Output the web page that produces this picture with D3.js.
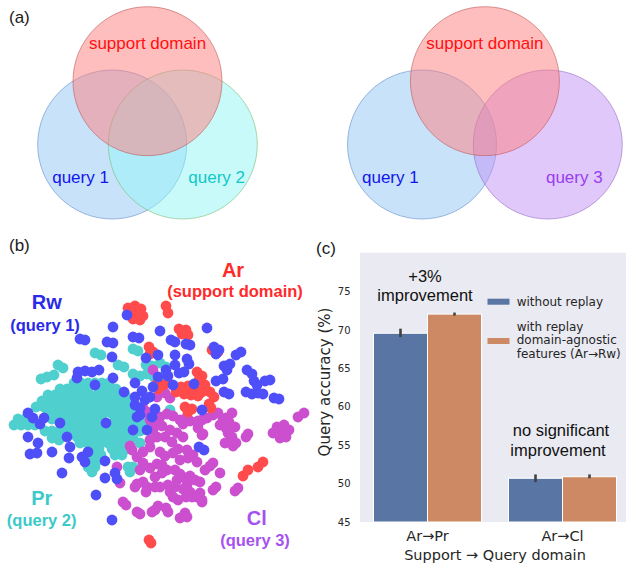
<!DOCTYPE html>
<html><head><meta charset="utf-8">
<script src="https://cdn.jsdelivr.net/npm/d3@7"></script>
<style>body{margin:0;background:#fff}svg{display:block}</style>
</head><body><svg id="fig" width="626" height="563"></svg>
<script>
// ================= DATA =================
// (a) Venn diagrams: set names and circle centres in units of circle radius
const vennLeftSets = ["support domain", "query 1", "query 2"];
const vennLeftCentres = [[0, -0.85], [-0.474, 0], [0.474, 0]];
const vennRightSets = ["support domain", "query 1", "query 3"];
const vennRightCentres = [[0, -0.85], [-0.844, 0], [0.844, 0]];

// (b) t-SNE embedding, [x, y]
const embArt = [[-32,112],[-25,114],[-19,111],[-29,106],[-22,106],[-17,104],[-27,101],[-20,100],
  [6,114],[8,107],[19,91],[26,90],[22,86],[28,85],[-11,73],[-7,68],[-10,66],[52,70],[58,68],
  [-3,36],[-2,31],[3,35],[8,37],[37,48],[42,44],[39,40],[21,33],[28,34],[35,32],[42,28],[24,26],[31,25],[38,24],[16,28],
  [45,35],[50,28],[54,23],
  [25,13],[32,11],[28,8],[49,16],[51,12],[83,-56],[88,-50],[98,-47],[103,-42],[-11,-120],[-9,-123]];
const embRealWorld = [[0,89],[11,80],[15,78],[26,76],[30,75],[47,92],[54,73],[59,70],[56,66],[76,65],[81,68],
  [15,65],[27,61],[29,56],[15,55],[19,47],[24,48],[64,54],[70,56],[67,50],[87,50],[92,46],[56,39],[63,41],
  [94,39],[97,35],[105,39],[110,40],[64,28],[69,26],[86,28],[92,26],[98,27],[103,26],[114,22],[119,21],
  [34,36],[13,35],[42,10],[-2,65],[6,50],[8,44],
  [-80,81],[-75,80],[-53,78],[-47,77],[-47,93],[-33,105],[-27,83],[-21,82],[-48,63],[-14,62],[-82,48],
  [-75,49],[-68,48],[-61,50],[-83,42],[-36,28],[-25,37],[-18,29],[-25,15],[-20,12],[-132,7],[-127,2],
  [-116,2],[-5,11],[-23,3],[-8,3],[-13,-10],[-27,-10],[-7,33],[-2,43],[-10,23],[-25,23],[-15,20],[-20,5],
  [-132,-17],[-122,-23],[-130,-34],[-123,-33],[-108,-32],[-93,-17],[-90,-27],[-91,-38],[-78,-37],[-75,-42],
  [-98,-53],[-72,-32],[-55,-41],[-55,-58],[-45,-53],[-43,-59],[-64,-75],[-48,-100],[-120,-4],[-100,-3],
  [39,-27],[44,-30],[-54,-3],[-65,35],[-47,42]];
const embProduct = [[-65,67],[-59,65],[-42,55],[-36,53],[-27,71],[-22,69],[-14,55],[-8,54],[-27,46],[-20,44],
  [-13,46],[-6,43],[-102,55],[-97,52],[-113,43],[-106,45],[-119,41],[0,57],[6,53],[0,39],[4,44],[10,10],
  [-86,37],[-79,37],[-72,37],[-65,37],[-58,37],[-51,37],
  [-100,31],[-93,31],[-86,31],[-79,31],[-72,31],[-58,31],[-51,31],[-44,31],
  [-112,25],[-105,25],[-98,25],[-91,25],[-84,25],[-77,25],[-70,25],[-63,25],[-56,25],[-49,25],[-42,25],[-35,25],
  [-118,19],[-111,19],[-104,19],[-97,19],[-90,19],[-83,19],[-76,19],[-69,19],[-62,19],[-55,19],[-48,19],[-41,19],[-34,19],[-27,19],
  [-124,13],[-116,13],[-109,13],[-102,13],[-95,13],[-88,13],[-81,13],[-74,13],[-67,13],[-60,13],[-53,13],[-46,13],[-39,13],[-32,13],
  [-112,7],[-105,7],[-98,7],[-91,7],[-84,7],[-77,7],[-70,7],[-63,7],[-56,7],[-49,7],[-42,7],[-35,7],[-28,7],[-14,7],
  [-142,1],[-135,1],[-108,1],[-101,1],[-94,1],[-87,1],[-80,1],[-73,1],[-66,1],[-59,1],[-45,1],[-38,1],[-31,1],[-20,1],[-13,1],
  [-146,-5],[-139,-5],[-132,-5],[-125,-5],[-94,-5],[-87,-5],[-80,-5],[-73,-5],[-66,-5],[-59,-5],[-52,-5],[-45,-5],[-38,-5],[-31,-5],[-24,-5],[-17,-5],
  [-115,-11],[-108,-11],[-101,-11],[-95,-11],[-88,-11],[-81,-11],[-74,-11],[-67,-11],[-60,-11],[-53,-11],[-46,-11],[-39,-11],[-32,-11],[-20,-11],
  [-108,-18],[-101,-20],[-83,-17],[-76,-17],[-69,-17],[-62,-17],[-55,-17],[-48,-17],[-41,-17],[-34,-17],[-27,-17],
  [-80,-23],[-73,-23],[-66,-23],[-59,-23],[-52,-23],[-45,-23],[-38,-23],[-31,-23],[-20,-23],
  [-68,-29],[-61,-29],[-48,-29],[-41,-29],[-34,-29],[-66,-35],[-59,-35],[-45,-35],[-38,-35],
  [-70,-41],[-63,-41],[-72,-47],[-65,-47],[-32,-47],[-27,-47],[-68,-52],[-30,-52]];
const embClipart = [[-7,50],[-17,12],[-10,0],[-3,23],[5,27],[10,22],[-13,8],[0,3],[7,6],[13,4],[-5,-4],[2,-6],
  [20,0],[27,3],[23,-4],[30,-1],[38,-4],[42,0],[47,2],[10,-10],[17,-13],[5,-17],[23,-17],[-3,-17],[-10,-20],
  [-7,-10],[38,-8],[42,-15],[-10,-27],[-17,-32],[-23,-37],[0,-32],[5,-36],[13,-33],[18,-29],[27,-30],[28,-38],
  [33,-35],[37,-42],[45,-50],[-17,-43],[-20,-50],[-10,-48],[-3,-44],[2,-45],[7,-50],[2,-53],[15,-50],[20,-54],
  [25,-58],[17,-60],[30,-56],[35,-60],[40,-62],[27,-65],[30,-72],[26,-77],[23,-69],[15,-67],[10,-72],[18,-80],
  [13,-77],[8,-65],[0,-67],[-5,-67],[-13,-67],[-17,-62],[-23,-64],[-25,-67],[-14,-72],[40,-73],[42,-80],
  [37,-77],[32,-77],[42,-82],[25,-93],[20,-98],[27,-97],[6,-88],[8,-92],[-2,-86],[-5,-90],[-8,-92],[-23,-92],
  [-20,-94],[-37,-82],[-34,-85],[-43,-47],[-40,-63],[-30,-26],[-28,-30],
  [38,-1],[43,-14],[63,0],[65,-23],[12,-22],[20,-40],[-5,-57],
  [53,5],[58,7],[66,2],[72,7],[69,-2],[60,-5],[66,-8],[68,-13],[75,-7],[72,-17],[73,-26],[76,-23],[86,-17],
  [88,-14],[53,-43],[50,-46],[60,-53],[53,-70],[56,-67],[75,-71],[78,-68],[117,-7],[124,-5],[129,-10],
  [120,-13],[113,-13],[126,-17],[120,-18],[138,3],[144,7]];

// (c) bar chart
const categories = ["Ar\u2192Pr", "Ar\u2192Cl"];
const seriesNames = ["without replay", "with replay|domain-agnostic|features (Ar\u2192Rw)"];
const withoutReplay = [69.6, 50.7];
const withReplay = [72.1, 50.9];
const withoutReplayCI = [[69.1, 70.2], [50.2, 51.2]];
const withReplayCI = [[71.9, 72.3], [50.7, 51.2]];
const yTicks = [45, 50, 55, 60, 65, 70, 75];

// ================= DRAW =================
const svg = d3.select("#fig");
svg.append("rect").attr("width", 626).attr("height", 563).attr("fill", "#fff");
const SANS = "'Liberation Sans', Arial, Helvetica, sans-serif";
const DJ = "'DejaVu Sans', sans-serif";

function panelLabel(t, x, y) {
  svg.append("text").attr("x", x).attr("y", y).attr("dy", "0.35em")
    .attr("font-family", SANS).attr("font-size", 17).attr("fill", "#1a1a1a").text(t);
}

// ---------- (a) ----------
const vennStyles = {
  "support domain": {fill: "rgba(255,125,125,0.5)", stroke: "rgba(190,90,90,0.6)", text: "#ff1010"},
  "query 1": {fill: "rgba(146,198,245,0.5)", stroke: "rgba(100,140,200,0.6)", text: "#1414ee"},
  "query 2": {fill: "rgba(146,245,245,0.5)", stroke: "rgba(120,190,120,0.6)", text: "#10c8c8"},
  "query 3": {fill: "rgba(194,146,245,0.5)", stroke: "rgba(150,110,200,0.6)", text: "#9a3cf2"}
};
const labelOffsets = {
  "support domain": [0, -0.51], "query 1": [-0.425, 0.432], "query 2": [0.455, 0.432], "query 3": [0.356, 0.432]
};
function drawVenn(sets, centres, cx, cy, r) {
  const vx = d3.scaleLinear().domain([-1, 1]).range([cx - r, cx + r]);
  const vy = d3.scaleLinear().domain([-1, 1]).range([cy - r, cy + r]);
  const g = svg.append("g");
  const items = sets.map((s, i) => ({s, c: centres[i]}));
  const order = [items[1], items[2], items[0]];
  g.selectAll("circle").data(order).join("circle")
    .attr("cx", d => vx(d.c[0])).attr("cy", d => vy(d.c[1]))
    .attr("r", vx(1) - vx(0))
    .attr("fill", d => vennStyles[d.s].fill)
    .attr("stroke", d => vennStyles[d.s].stroke).attr("stroke-width", 1);
  g.selectAll("text").data(items).join("text")
    .attr("x", d => vx(d.c[0] + labelOffsets[d.s][0]))
    .attr("y", d => vy(d.c[1] + labelOffsets[d.s][1]))
    .attr("dy", "0.35em").attr("text-anchor", "middle")
    .attr("font-family", SANS).attr("font-size", 17)
    .attr("fill", d => vennStyles[d.s].text).text(d => d.s);
}
drawVenn(vennLeftSets, vennLeftCentres, 147.5, 144.5, 74.5);
drawVenn(vennRightSets, vennRightCentres, 484.9, 144.5, 74.5);
panelLabel("(a)", 9, 17);

// ---------- (b) ----------
const ex = d3.scaleLinear().domain([-160, 150]).range([0, 310]);
const ey = d3.scaleLinear().domain([190, -143]).range([230, 563]);
const gb = svg.append("g");
const groups = [
  {data: embProduct, color: "#4fd0ce"},
  {data: embClipart, color: "#cc4fcf"},
  {data: embArt, color: "#ff4b4b"},
  {data: embRealWorld, color: "#4f4ffa"}
];
groups.forEach(gr => {
  gb.append("g").selectAll("circle").data(gr.data).join("circle")
    .attr("cx", d => ex(d[0])).attr("cy", d => ey(d[1])).attr("r", 5.4)
    .attr("fill", gr.color);
});
const bLabels = [
  {t: "Rw", x: 46.7, y: 301.7, s: 20, c: "#2a2ae8"},
  {t: "(query 1)", x: 45, y: 325, s: 16.5, c: "#2a2ae8"},
  {t: "Ar", x: 233, y: 270, s: 20, c: "#ff2a2a"},
  {t: "(support domain)", x: 235, y: 291.7, s: 16.5, c: "#ff2a2a"},
  {t: "Pr", x: 41.7, y: 498, s: 20, c: "#3cc9c9"},
  {t: "(query 2)", x: 41.7, y: 520, s: 16.5, c: "#3cc9c9"},
  {t: "Cl", x: 256.7, y: 518, s: 20, c: "#a652f0"},
  {t: "(query 3)", x: 255, y: 540, s: 16.5, c: "#a652f0"}
];
gb.selectAll("text.lab").data(bLabels).join("text").attr("class", "lab")
  .attr("x", d => d.x).attr("y", d => d.y).attr("dy", "0.35em").attr("text-anchor", "middle")
  .attr("font-family", SANS).attr("font-weight", "bold").attr("font-size", d => d.s)
  .attr("fill", d => d.c).text(d => d.t);
panelLabel("(b)", 9, 245);

// ---------- (c) ----------
const plot = {left: 360, right: 630, top: 252.7, bottom: 522};
const y = d3.scaleLinear().domain([45, 80.1]).range([plot.bottom, plot.top]);
const x0 = d3.scaleBand().domain(categories).range([plot.left, plot.right]).paddingInner(0).paddingOuter(0);
const inner = d3.scaleBand().domain([0, 1]).range([0, x0.bandwidth() * 0.8]);
const gc = svg.append("g");
gc.append("rect").attr("x", plot.left).attr("y", plot.top)
  .attr("width", plot.right - plot.left).attr("height", plot.bottom - plot.top).attr("fill", "#eaeaf2");
const barColors = ["#5975a4", "#cc8963"];
const series = [withoutReplay, withReplay];
const cis = [withoutReplayCI, withReplayCI];
const bars = [];
series.forEach((vals, si) => vals.forEach((v, ci) => bars.push({
  cat: categories[ci], si, v, lo: cis[si][ci][0], hi: cis[si][ci][1]
})));
const bx = d => x0(d.cat) + x0.bandwidth() * 0.1 + inner(d.si);
gc.selectAll("rect.bar").data(bars).join("rect").attr("class", "bar")
  .attr("x", bx).attr("width", inner.bandwidth())
  .attr("y", d => y(d.v)).attr("height", d => y(45) - y(d.v))
  .attr("fill", d => barColors[d.si]).attr("stroke", "#fff").attr("stroke-width", 1);
gc.selectAll("line.err").data(bars).join("line").attr("class", "err")
  .attr("x1", d => bx(d) + inner.bandwidth() / 2).attr("x2", d => bx(d) + inner.bandwidth() / 2)
  .attr("y1", d => y(d.lo)).attr("y2", d => y(d.hi))
  .attr("stroke", "#424242").attr("stroke-width", 2.6);
// y ticks
gc.selectAll("text.yt").data(yTicks).join("text").attr("class", "yt")
  .attr("x", 350.5).attr("y", d => y(d)).attr("dy", "0.35em").attr("text-anchor", "end")
  .attr("font-family", DJ).attr("font-size", 10).attr("fill", "#262626").text(d => d);
// x ticks
gc.selectAll("text.xt").data(categories).join("text").attr("class", "xt")
  .attr("x", d => x0(d) + x0.bandwidth() / 2).attr("y", 536).attr("dy", "0.35em")
  .attr("text-anchor", "middle").attr("font-family", DJ).attr("font-size", 14.5)
  .attr("fill", "#262626").text(d => d);
gc.append("text").attr("x", (plot.left + plot.right) / 2).attr("y", 555).attr("dy", "0.35em")
  .attr("text-anchor", "middle").attr("font-family", DJ).attr("font-size", 14.5).attr("fill", "#262626")
  .text("Support \u2192 Query domain");
gc.append("text").attr("transform", "translate(325,382) rotate(-90)").attr("dy", "0.35em")
  .attr("text-anchor", "middle").attr("font-family", DJ).attr("font-size", 15).attr("fill", "#262626")
  .text("Query accuracy (%)");
// legend
const legY = [301.7, 341];
seriesNames.forEach((name, i) => {
  gc.append("rect").attr("x", 487.5).attr("y", legY[i] - 3).attr("width", 22).attr("height", 6)
    .attr("fill", barColors[i]);
  const lines = name.split("|");
  lines.forEach((ln, k) => {
    gc.append("text").attr("x", 516.7)
      .attr("y", legY[i] + (k - (lines.length - 1) / 2) * 13.7 - (lines.length > 1 ? 1 : 0))
      .attr("dy", "0.35em").attr("font-family", DJ).attr("font-size", 12).attr("fill", "#262626").text(ln);
  });
});
// annotations
const notes = [
  {t: "+3%", x: 425, y: 276.7}, {t: "improvement", x: 425, y: 295},
  {t: "no significant", x: 561, y: 430}, {t: "improvement", x: 558, y: 450}
];
gc.selectAll("text.note").data(notes).join("text").attr("class", "note")
  .attr("x", d => d.x).attr("y", d => d.y).attr("dy", "0.35em").attr("text-anchor", "middle")
  .attr("font-family", SANS).attr("font-size", 16.5).attr("fill", "#111").text(d => d.t);
panelLabel("(c)", 316, 248);
</script></body></html>
